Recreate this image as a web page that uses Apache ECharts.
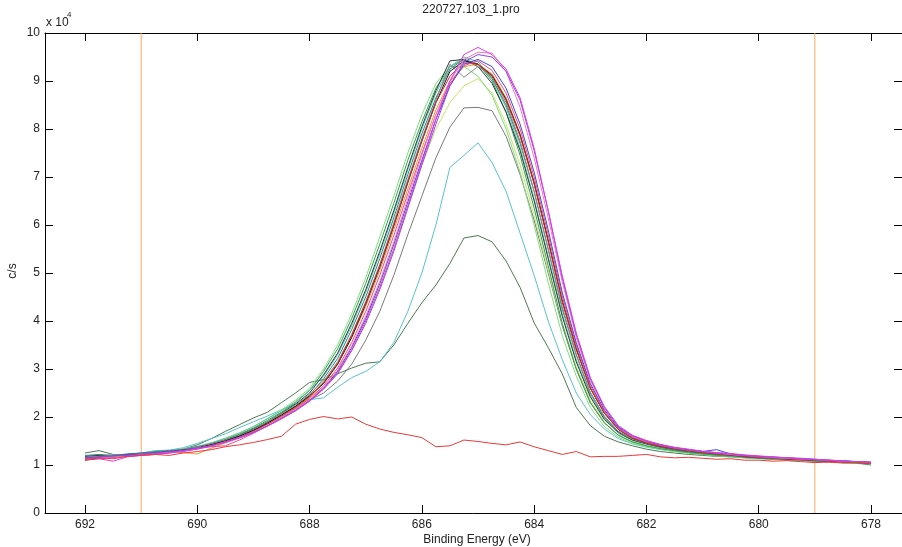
<!DOCTYPE html>
<html><head><meta charset="utf-8">
<script src="https://cdn.jsdelivr.net/npm/echarts@6/dist/echarts.min.js"></script>
<style>html,body{margin:0;padding:0;background:#fff}#c{width:902px;height:547px}</style>
</head><body><div id="c"></div>
<script>
// Binding energy (eV) of each sample point
const energy = [692,691.75,691.5,691.25,691,690.75,690.5,690.25,690,689.75,689.5,689.25,689,688.75,688.5,688.25,688,687.75,687.5,687.25,687,686.75,686.5,686.25,686,685.75,685.5,685.25,685,684.75,684.5,684.25,684,683.75,683.5,683.25,683,682.75,682.5,682.25,682,681.75,681.5,681.25,681,680.75,680.5,680.25,680,679.75,679.5,679.25,679,678.75,678.5,678.25,678];
// intensities in units of 1e4 c/s
const lightGreen = [1.12,1.15,1.17,1.2,1.23,1.25,1.28,1.33,1.38,1.46,1.55,1.66,1.8,1.97,2.15,2.35,2.6, 3.0,3.5,4.15,4.9,5.75,6.6,7.5,8.3,8.95,9.3,9.3,9.1,8.7,8.0,7.1,6.0,4.8,3.7,2.85,2.2,1.8, 1.58,1.45,1.38,1.33,1.28,1.25,1.22,1.19,1.17,1.15,1.13,1.12,1.1,1.09,1.08,1.06,1.05,1.03,1.02];
const green = [1.1,1.13,1.16,1.19,1.21,1.24,1.28,1.32,1.37,1.45,1.53,1.64,1.77,1.93,2.1,2.3,2.55, 2.95,3.42,4.05,4.78,5.6,6.45,7.35,8.15,8.85,9.3,9.45,9.35,9.0,8.35,7.45,6.35,5.15,3.95,3.0,2.3,1.88, 1.62,1.48,1.4,1.34,1.3,1.26,1.23,1.2,1.18,1.16,1.14,1.12,1.11,1.1,1.08,1.07,1.05,1.04,1.0];
const darkSlate = [1.18,1.2,1.19,1.22,1.24,1.26,1.29,1.31,1.36,1.43,1.52,1.62,1.75,1.9,2.08,2.27,2.5, 2.88,3.33,3.95,4.65,5.45,6.3,7.2,8.05,8.8,9.42,9.45,9.3,8.95,8.35,7.55,6.5,5.3,4.1,3.15,2.42,1.95, 1.68,1.52,1.44,1.37,1.32,1.28,1.25,1.22,1.2,1.17,1.15,1.14,1.12,1.11,1.09,1.08,1.07,1.05,1.04];
const teal = [1.2,1.22,1.2,1.23,1.25,1.28,1.3,1.32,1.38,1.44,1.5,1.61,1.73,1.88,2.05,2.23,2.45, 2.8,3.22,3.82,4.5,5.3,6.15,7.05,7.9,8.65,9.25,9.45,9.35,9.05,8.5,7.7,6.7,5.5,4.25,3.3,2.5,2.0, 1.7,1.54,1.45,1.38,1.33,1.3,1.26,1.24,1.21,1.19,1.16,1.15,1.13,1.12,1.1,1.09,1.08,1.07,1.05];
const red = [1.1,1.14,1.17,1.19,1.21,1.23,1.26,1.3,1.34,1.41,1.49,1.58,1.7,1.85,2.02,2.2,2.42, 2.72,3.12,3.7,4.38,5.15,6.0,6.9,7.75,8.55,9.1,9.38,9.35,9.1,8.6,7.85,6.85,5.65,4.4,3.4,2.6,2.08, 1.74,1.56,1.46,1.39,1.34,1.3,1.26,1.23,1.21,1.18,1.16,1.14,1.13,1.11,1.1,1.08,1.07,1.05,1.04];
const orange = [1.13,1.15,1.18,1.2,1.22,1.25,1.27,1.26,1.23,1.35,1.46,1.57,1.7,1.84,2.0,2.18,2.4, 2.7,3.1,3.65,4.3,5.05,5.9,6.75,7.6,8.4,9.0,9.3,9.35,9.15,8.65,7.9,6.9,5.7,4.45,3.45,2.62,2.1, 1.75,1.57,1.47,1.4,1.35,1.3,1.27,1.24,1.21,1.19,1.17,1.15,1.13,1.12,1.1,1.09,1.07,1.06,1.05];
const pink = [1.12,1.14,1.16,1.18,1.2,1.22,1.25,1.3,1.36,1.38,1.4,1.52,1.66,1.82,1.99,2.17,2.38, 2.65,3.02,3.55,4.2,4.95,5.78,6.65,7.5,8.3,8.95,9.32,9.42,9.22,8.75,8.0,7.0,5.8,4.52,3.5,2.66,2.12, 1.76,1.58,1.48,1.41,1.35,1.31,1.28,1.25,1.22,1.2,1.17,1.15,1.14,1.12,1.11,1.09,1.08,1.06,1.05];
const blue = [1.14,1.16,1.18,1.21,1.23,1.24,1.27,1.3,1.34,1.4,1.48,1.57,1.68,1.82,1.98,2.15,2.35, 2.6,2.95,3.45,4.05,4.78,5.6,6.48,7.35,8.2,8.9,9.35,9.45,9.3,8.85,8.1,7.1,5.9,4.6,3.55,2.7,2.15, 1.78,1.6,1.5,1.42,1.36,1.32,1.28,1.32,1.23,1.2,1.18,1.16,1.15,1.14,1.12,1.1,1.09,1.07,1.06];
const magenta = [1.12,1.13,1.08,1.17,1.2,1.22,1.25,1.28,1.33,1.39,1.47,1.56,1.67,1.81,1.96,2.13,2.33, 2.6,2.92,3.4,4.0,4.7,5.5,6.4,7.3,8.2,9.0,9.55,9.7,9.55,9.25,8.65,7.6,6.3,4.95,3.75,2.82,2.22, 1.82,1.62,1.51,1.43,1.37,1.33,1.29,1.26,1.24,1.21,1.19,1.17,1.15,1.13,1.12,1.1,1.08,1.07,1.05];
const purple = [1.15,1.17,1.19,1.2,1.23,1.25,1.28,1.3,1.35,1.4,1.48,1.57,1.68,1.81,1.97,2.13,2.33, 2.58,2.9,3.38,3.95,4.65,5.45,6.35,7.25,8.1,8.9,9.4,9.55,9.5,9.2,8.6,7.55,6.3,4.9,3.72,2.8,2.2, 1.8,1.61,1.5,1.42,1.36,1.32,1.28,1.25,1.23,1.2,1.18,1.17,1.15,1.13,1.11,1.1,1.08,1.07,1.06];
const lightPink = [1.13,1.15,1.17,1.19,1.22,1.24,1.27,1.29,1.34,1.4,1.48,1.57,1.69,1.83,1.99,2.16,2.36, 2.62,2.98,3.48,4.1,4.82,5.65,6.55,7.45,8.3,9.0,9.45,9.6,9.58,9.2,8.45,7.4,6.15,4.82,3.66,2.76,2.18, 1.8,1.6,1.5,1.42,1.36,1.32,1.28,1.25,1.22,1.2,1.18,1.16,1.14,1.13,1.11,1.1,1.08,1.06,1.05];
const grayDip = [1.16,1.18,1.2,1.21,1.24,1.26,1.29,1.32,1.37,1.44,1.52,1.62,1.74,1.9,2.07,2.25,2.47, 2.75,3.15,3.72,4.4,5.18,6.05,6.95,7.8,8.6,9.35,9.08,9.3,9.1,8.55,7.75,6.7,5.5,4.3,3.3,2.52,2.02, 1.7,1.54,1.45,1.38,1.33,1.29,1.26,1.23,1.21,1.18,1.16,1.14,1.13,1.12,1.1,1.09,1.07,1.06,1.04];
const black = [1.14,1.16,1.18,1.2,1.22,1.25,1.28,1.31,1.35,1.42,1.5,1.6,1.72,1.87,2.04,2.22,2.44, 2.7,3.1,3.66,4.35,5.12,5.98,6.88,7.75,8.55,9.2,9.42,9.35,9.12,8.62,7.88,6.88,5.68,4.42,3.42,2.6,2.08, 1.74,1.56,1.46,1.39,1.34,1.3,1.27,1.24,1.21,1.19,1.17,1.15,1.13,1.12,1.1,1.09,1.07,1.06,1.04];
const seaGreen = [1.17,1.19,1.21,1.22,1.25,1.27,1.3,1.34,1.39,1.46,1.56,1.67,1.8,1.96,2.13,2.32,2.56, 2.85,3.3,3.9,4.6,5.4,6.25,7.15,8.0,8.75,9.3,9.5,9.4,9.05,8.45,7.6,6.55,5.35,4.15,3.2,2.45,1.98, 1.66,1.51,1.43,1.37,1.32,1.28,1.25,1.22,1.19,1.17,1.15,1.13,1.12,1.1,1.09,1.08,1.06,1.05,1.03];
const yellowGreen = [1.12,1.14,1.16,1.18,1.21,1.23,1.26,1.3,1.34,1.41,1.49,1.59,1.71,1.86,2.03,2.21,2.42, 2.6,2.95,3.45,4.05,4.75,5.55,6.4,7.25,8.0,8.55,8.9,9.05,8.75,8.1,7.25,6.2,5.05,3.95,3.05,2.35,1.9, 1.62,1.48,1.4,1.34,1.29,1.26,1.23,1.2,1.18,1.16,1.14,1.12,1.11,1.1,1.08,1.07,1.06,1.04,1.03];
const gray84 = [1.15,1.17,1.19,1.21,1.23,1.25,1.28,1.31,1.36,1.43,1.51,1.61,1.73,1.88,2.04,2.2,2.35, 2.5,2.75,3.1,3.6,4.2,4.95,5.8,6.6,7.4,8.04,8.44,8.45,8.38,7.85,7.05,6.1,5.0,3.9,3.0,2.3,1.88, 1.62,1.48,1.4,1.34,1.3,1.26,1.23,1.2,1.18,1.16,1.14,1.13,1.11,1.1,1.09,1.07,1.06,1.05,1.03];
const cyan77 = [1.16,1.18,1.2,1.22,1.25,1.3,1.31,1.36,1.45,1.55,1.65,1.78,1.9,2.02,2.15,2.27,2.36, 2.4,2.62,2.82,2.95,3.15,3.55,4.2,5.0,6.0,7.2,7.45,7.71,7.3,6.7,5.83,4.95,4.0,3.2,2.5,2.05,1.75, 1.55,1.44,1.37,1.32,1.28,1.25,1.22,1.2,1.18,1.16,1.14,1.12,1.11,1.1,1.08,1.07,1.06,1.05,1.04];
const darkGreen57 = [1.25,1.3,1.22,1.2,1.24,1.26,1.28,1.33,1.42,1.55,1.7,1.84,1.98,2.1,2.3,2.5,2.72, 2.78,2.9,3.02,3.12,3.15,3.5,3.95,4.38,4.75,5.2,5.73,5.78,5.65,5.25,4.7,3.96,3.45,2.9,2.2,1.82,1.6, 1.48,1.4,1.33,1.28,1.25,1.22,1.2,1.18,1.17,1.15,1.14,1.13,1.12,1.1,1.1,1.08,1.07,1.06,1.05];
const redLow = [1.12,1.15,1.13,1.18,1.2,1.22,1.2,1.25,1.28,1.32,1.38,1.42,1.47,1.53,1.6,1.85,1.95,2.01,1.96,2.0,1.85,1.75,1.68,1.63,1.57,1.38,1.4,1.52,1.49,1.45,1.42,1.48,1.38,1.3,1.22,1.28,1.17,1.18,1.18,1.2,1.22,1.17,1.15,1.16,1.14,1.12,1.13,1.1,1.1,1.08,1.09,1.07,1.05,1.06,1.04,1.05,1.03];
const markerLines = [691, 679];
const xTicks = {min: 678, max: 692, interval: 2};
const yTicks = {min: 0, max: 10, interval: 1};

const curves = [
  ['darkGreen57', '#4f7a52', darkGreen57],
  ['cyan77', '#58c4cc', cyan77],
  ['gray84', '#7a7a7a', gray84],
  ['yellowGreen', '#c9e36a', yellowGreen],
  ['lightGreen', '#7ee07e', lightGreen],
  ['green', '#2fa34a', green],
  ['seaGreen', '#5cc4a4', seaGreen],
  ['teal', '#2a8a8a', teal],
  ['darkSlate', '#2a3c3c', darkSlate],
  ['orange', '#f0962e', orange],
  ['grayDip', '#8a8a8a', grayDip],
  ['black', '#151515', black],
  ['red', '#d82828', red],
  ['pink', '#f04a86', pink],
  ['blue', '#3a48e0', blue],
  ['lightPink', '#f27ac4', lightPink],
  ['purple', '#9246e6', purple],
  ['magenta', '#e03ae0', magenta],
  ['redLow', '#e83a3a', redLow]
];

const FONT = "'Liberation Sans', Arial, sans-serif";
const ORANGE = '#f5a860';
const chart = echarts.init(document.getElementById('c'), null, {renderer: 'canvas'});
const series = markerLines.map((v, k) => ({
  name: 'marker' + k, type: 'line', xAxisIndex: 2, yAxisIndex: 2,
  data: [[v, yTicks.min], [v, yTicks.max]],
  showSymbol: false, symbol: 'none', silent: true, z: 1,
  color: ORANGE, lineStyle: {color: ORANGE, width: 1}
}));
curves.forEach(([name, color, vals]) => series.push({
  name, type: 'line', xAxisIndex: 2, yAxisIndex: 2,
  data: energy.map((e, i) => [e, vals[i]]),
  showSymbol: false, symbol: 'none', silent: true, z: 2,
  color, lineStyle: {color, width: 1}, itemStyle: {color}
}));

const frameAxisX = (pos) => ({
  gridIndex: 0, type: 'value', min: 0, max: 1, position: pos,
  axisLine: {show: true, onZero: false, lineStyle: {color: '#000', width: 1}},
  axisTick: {show: false}, axisLabel: {show: false}, splitLine: {show: false}
});
const dataAxisX = (pos, labels) => ({
  gridIndex: 1, type: 'value', position: pos, inverse: true,
  min: xTicks.min, max: xTicks.max, interval: xTicks.interval,
  axisLine: {show: false, onZero: false},
  axisTick: {show: true, inside: true, length: 8, lineStyle: {color: '#000', width: 1}},
  axisLabel: {show: labels, margin: 6, fontSize: 12, color: '#222', fontFamily: FONT},
  splitLine: {show: false}
});

chart.setOption({
  animation: false,
  backgroundColor: '#fff',
  grid: [
    {left: 45, top: 33, width: 859, height: 480},
    {left: 85, top: 33, width: 786, height: 480}
  ],
  xAxis: [frameAxisX('bottom'), frameAxisX('top'), dataAxisX('bottom', true), dataAxisX('top', false)],
  yAxis: [
    {gridIndex: 0, type: 'value', position: 'left', min: yTicks.min, max: yTicks.max, interval: yTicks.interval,
     axisLine: {show: true, onZero: false, lineStyle: {color: '#000', width: 1}},
     axisTick: {show: true, inside: true, length: 8, lineStyle: {color: '#000'}},
     axisLabel: {margin: 5, fontSize: 12, color: '#222', fontFamily: FONT},
     splitLine: {show: false}},
    {gridIndex: 0, type: 'value', position: 'right', min: yTicks.min, max: yTicks.max, interval: yTicks.interval,
     axisLine: {show: true, onZero: false, lineStyle: {color: '#000', width: 1}},
     axisTick: {show: true, inside: true, length: 8, lineStyle: {color: '#000'}},
     axisLabel: {show: false}, splitLine: {show: false}},
    {gridIndex: 1, type: 'value', min: yTicks.min, max: yTicks.max, show: false}
  ],
  graphic: [
    {type: 'text', style: {text: '220727.103_1.pro', x: 471, y: 10, align: 'center', verticalAlign: 'middle', fill: '#222', font: '12px ' + FONT}},
    {type: 'text', style: {text: 'x 10', x: 46, y: 23, verticalAlign: 'middle', fill: '#222', font: '12px ' + FONT}},
    {type: 'text', style: {text: '4', x: 67, y: 15, verticalAlign: 'middle', fill: '#222', font: '8px ' + FONT}},
    {type: 'text', x: 13, y: 271, rotation: Math.PI / 2, style: {text: 'c/s', x: 0, y: 0, align: 'center', verticalAlign: 'middle', fill: '#222', font: '12px ' + FONT}},
    {type: 'text', style: {text: 'Binding Energy (eV)', x: 477, y: 540, align: 'center', verticalAlign: 'middle', fill: '#222', font: '12px ' + FONT}}
  ],
  series
});
</script></body></html>
